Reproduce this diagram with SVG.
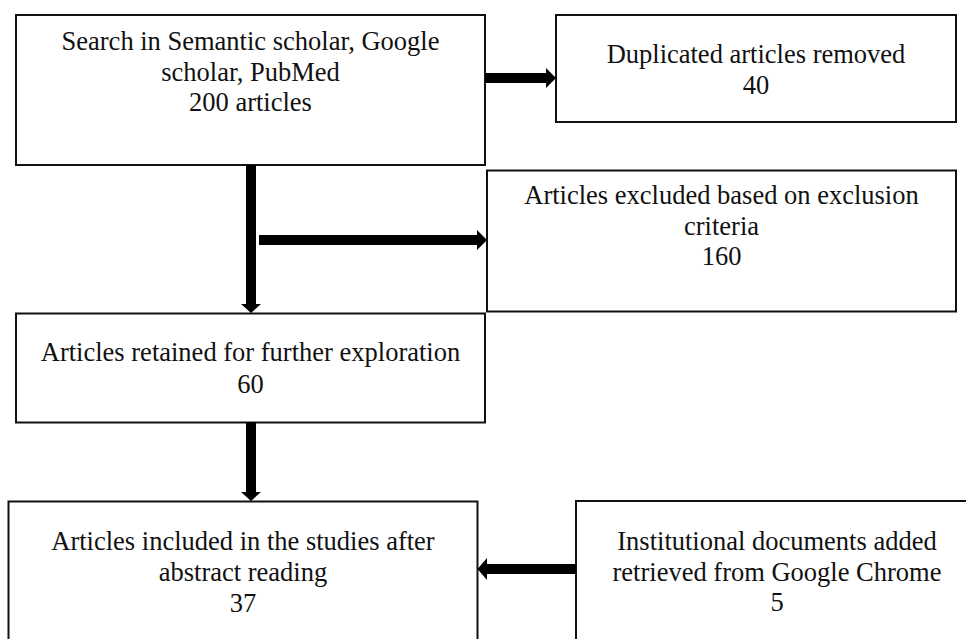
<svg xmlns="http://www.w3.org/2000/svg" width="966" height="639" viewBox="0 0 966 639">
<style>
.box{fill:#fff;stroke:#111;stroke-width:2}
.t{font-family:"Liberation Serif","Times New Roman",serif;font-size:26.5px;fill:#111;text-anchor:middle}
.arr{fill:#000}
</style>
<rect width="966" height="639" fill="#fff"/>
<g id="n1"><rect class="box" x="16" y="15" width="469" height="150"/>
<text class="t" x="250.5" y="50">Search in Semantic scholar, Google</text>
<text class="t" x="250.5" y="80.5">scholar, PubMed</text>
<text class="t" x="250.5" y="110.5">200 articles</text></g>
<g id="n2"><rect class="box" x="556" y="15" width="400" height="107"/>
<text class="t" x="756" y="62.5">Duplicated articles removed</text>
<text class="t" x="756" y="94">40</text></g>
<g id="n3"><rect class="box" x="487" y="170.5" width="469" height="141"/>
<text class="t" x="721.5" y="204">Articles excluded based on exclusion</text>
<text class="t" x="721.5" y="235">criteria</text>
<text class="t" x="721.5" y="265">160</text></g>
<g id="n4"><rect class="box" x="16" y="313.5" width="469" height="109"/>
<text class="t" x="250.5" y="361">Articles retained for further exploration</text>
<text class="t" x="250.5" y="392.5">60</text></g>
<g id="n5"><rect class="box" x="8.5" y="501.5" width="469" height="200"/>
<text class="t" x="243" y="550">Articles included in the studies after</text>
<text class="t" x="243" y="580.5">abstract reading</text>
<text class="t" x="243" y="611.5">37</text></g>
<g id="n6"><rect class="box" x="576" y="501" width="402" height="200"/>
<text class="t" x="777" y="550">Institutional documents added</text>
<text class="t" x="777" y="580.5">retrieved from Google Chrome</text>
<text class="t" x="777" y="611">5</text></g>
<g id="connectors">
<polygon class="arr" points="485,73 546,73 546,68 556,78 546,88 546,83 485,83"/>
<polygon class="arr" points="246,165 256,165 256,304 261,304 251,313 241,304 246,304"/>
<polygon class="arr" points="259,235 477,235 477,230 487,240 477,250 477,245 259,245"/>
<polygon class="arr" points="246,422 256,422 256,492 261,492 251,501 241,492 246,492"/>
<polygon class="arr" points="576,564 487,564 487,558 477.5,569 487,580 487,574 576,574"/>
</g>
</svg>
